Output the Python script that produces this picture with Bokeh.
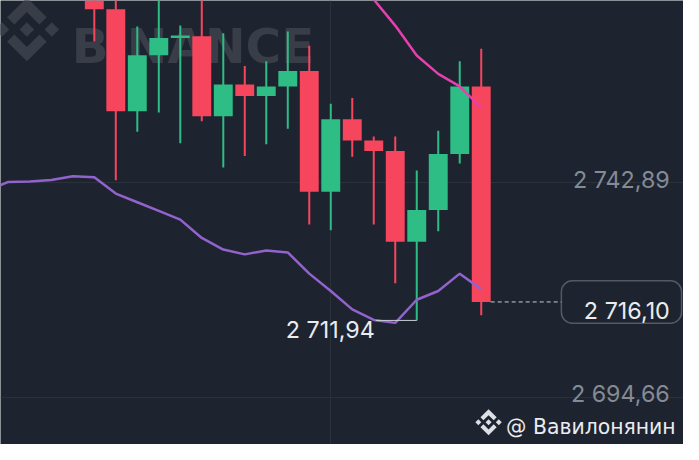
from bokeh.plotting import figure
from bokeh.models import Range1d, FixedTicker, BoxAnnotation
from bokeh.core.properties import value
from bokeh.embed import file_html
from bokeh.resources import INLINE

# ---------------- data ----------------
candle_idx = list(range(19))
opens  = [2786.5, 2782.0, 2759.0, 2771.6, 2775.5, 2775.9, 2757.9, 2765.05, 2762.44, 2764.62,
          2768.09, 2740.93, 2757.23, 2752.45, 2750.06, 2729.64, 2736.81, 2749.41, 2764.62]
highs  = [2790.0, 2785.0, 2778.1, 2785.0, 2778.3, 2785.0, 2776.56, 2769.18, 2770.26, 2777.0,
          2773.74, 2760.70, 2762.01, 2753.32, 2753.32, 2745.71, 2754.62, 2770.26, 2773.09]
lows   = [2774.8, 2743.5, 2754.4, 2758.75, 2751.8, 2756.8, 2746.37, 2748.97, 2751.58, 2755.06,
          2733.55, 2732.24, 2748.76, 2733.55, 2720.30, 2711.94, 2732.03, 2747.24, 2713.13]
closes = [2782.0, 2759.0, 2771.6, 2775.5, 2776.1, 2757.9, 2765.05, 2762.44, 2764.62, 2768.09,
          2740.93, 2757.23, 2752.45, 2750.06, 2729.64, 2736.81, 2749.41, 2764.62, 2716.10]

ma_slow_idx = list(range(-5, 19))
ma_slow = [2741.15, 2743.11, 2743.22, 2743.54, 2744.41, 2744.19, 2740.50, 2738.54, 2736.59, 2734.63,
           2730.51, 2727.90, 2726.81, 2727.68, 2727.25, 2722.47, 2718.56, 2714.43, 2712.04, 2711.39,
           2716.60, 2718.56, 2722.47, 2718.99]

ma_mid_idx = list(range(12, 19))
ma_mid = [2790.47, 2784.17, 2778.30, 2771.57, 2767.44, 2764.62, 2759.84]

price_ticks = [2742.89, 2694.66]
price_labels = ["2 742,89", "2 694,66"]
last_label = "2 716,10"
low_label = "2 711,94"
time_grid = [11]
author = "@ Вавилонянин"
brand = "BINANCE"

# ---------------- layout helpers (reference pixel -> data) ----------------
X0_PX, DX_PX = 96.0, 22.0
Y0_PX, Y0_VAL, PX_PER_UNIT = 189.0, 2742.89, 4.603
REF_W, REF_H = 699, 460
W, H = 683, 444
S = 0.97  # size scale of the figure relative to the reference picture

def rx(px):
    return (px - X0_PX) / DX_PX

def ry(py):
    return Y0_VAL - (py - Y0_PX) / PX_PER_UNIT

def fs(px):
    return f"{px * S:.1f}px"

BG = "#1e2330"
GRID = "#2b313b"
GREEN = "#2ebd85"
RED = "#f6465d"
PURPLE = "#9263cc"
PINK = "#e63fae"
GREY_TXT = "#848b95"
WHITE_TXT = "#eaecef"
FONT = "Inter"

p = figure(width=W, height=H, output_backend="svg", toolbar_location=None,
           x_range=Range1d(rx(0), rx(REF_W)),
           y_range=Range1d(ry(REF_H), ry(0)),
           min_border=0, background_fill_color=BG, border_fill_color=BG,
           outline_line_color=None)
p.xaxis.visible = False
p.yaxis.visible = False
p.xgrid.ticker = FixedTicker(ticks=time_grid)
p.ygrid.ticker = FixedTicker(ticks=price_ticks)
p.grid.grid_line_color = GRID
p.grid.grid_line_width = 1

# ---------------- watermark logo ----------------
LOGO_SHAPES = [
    [(0, 0.226), (0.226, 0), (0, -0.226), (-0.226, 0)],
    [(-1, 0), (-0.774, 0.226), (-0.549, 0), (-0.774, -0.226)],
    [(1, 0), (0.774, 0.226), (0.549, 0), (0.774, -0.226)],
    [(0, 1), (0.614, 0.386), (0.388, 0.159), (0, 0.548), (-0.388, 0.159), (-0.614, 0.386)],
    [(0, -1), (0.614, -0.386), (0.388, -0.159), (0, -0.548), (-0.388, -0.159), (-0.614, -0.386)],
]

def draw_logo(cx, cy, r, color):
    xs = [[rx(cx + u * r) for u, v in s] for s in LOGO_SHAPES]
    ys = [[ry(cy - v * r) for u, v in s] for s in LOGO_SHAPES]
    p.patches(xs, ys, fill_color=color, line_color=None)

WM = "#383d47"
draw_logo(27, 30, 33, WM)
p.text(x=[rx(73)], y=[ry(47)], text=[brand], text_font=value("DejaVu Sans"),
       text_font_style="bold", text_font_size=fs(50), text_color=WM,
       text_align="left", text_baseline="alphabetic")

# ---------------- candles ----------------
colors = [GREEN if c >= o else RED for o, c in zip(opens, closes)]
tops = [max(o, c) for o, c in zip(opens, closes)]
bots = [min(o, c) for o, c in zip(opens, closes)]
p.segment(x0=candle_idx, y0=highs, x1=candle_idx, y1=lows, line_color=colors, line_width=2)
p.vbar(x=candle_idx, width=0.88, top=tops, bottom=bots, fill_color=colors, line_color=None)

# ---------------- moving averages ----------------
p.line(ma_slow_idx, ma_slow, line_color=PURPLE, line_width=2.5)
p.line(ma_mid_idx, ma_mid, line_color=PINK, line_width=2.5)

# ---------------- price scale labels ----------------
label_right = rx(685)
p.text(x=[label_right] * len(price_ticks), y=price_ticks, text=price_labels,
       text_font=value(FONT), text_font_size=fs(24), text_color=GREY_TXT,
       text_align="right", text_baseline="alphabetic", y_offset=-4 * S)

# last price line + box
last_i = candle_idx[-1]
last_c = closes[-1]
box_left = rx(574)
p.segment(x0=[last_i + 0.44], y0=[last_c], x1=[box_left], y1=[last_c],
          line_color="#c9cdd3", line_width=1, line_dash="4 3")
half_h = 22 / PX_PER_UNIT
box = BoxAnnotation(left=box_left, right=rx(697), top=last_c + half_h, bottom=last_c - half_h,
                    fill_color=None, line_color="#d3d6db", line_width=1.5,
                    border_radius=11)
p.add_layout(box)
p.text(x=[label_right], y=[last_c], text=[last_label], text_font=value(FONT),
       text_font_size=fs(24), text_color=WHITE_TXT, text_align="right",
       text_baseline="alphabetic", y_offset=9 * S)

# lowest low marker
low_v = min(lows)
low_i = candle_idx[lows.index(low_v)]
p.segment(x0=[rx(384)], y0=[low_v], x1=[low_i], y1=[low_v], line_color="#c9cdd3", line_width=1)
p.text(x=[rx(383)], y=[low_v], text=[low_label], text_font=value(FONT),
       text_font_size=fs(24), text_color=WHITE_TXT, text_align="right",
       text_baseline="alphabetic", y_offset=9 * S)

# ---------------- author mark ----------------
draw_logo(499.5, 437, 13.5, "#dcdfe3")
p.text(x=[rx(691)], y=[ry(442)], text=[author], text_font=value("DejaVu Sans"),
       text_font_size=fs(21), text_color=WHITE_TXT, text_align="right",
       text_baseline="alphabetic")

open("out.html", "w").write(file_html(p, INLINE))
